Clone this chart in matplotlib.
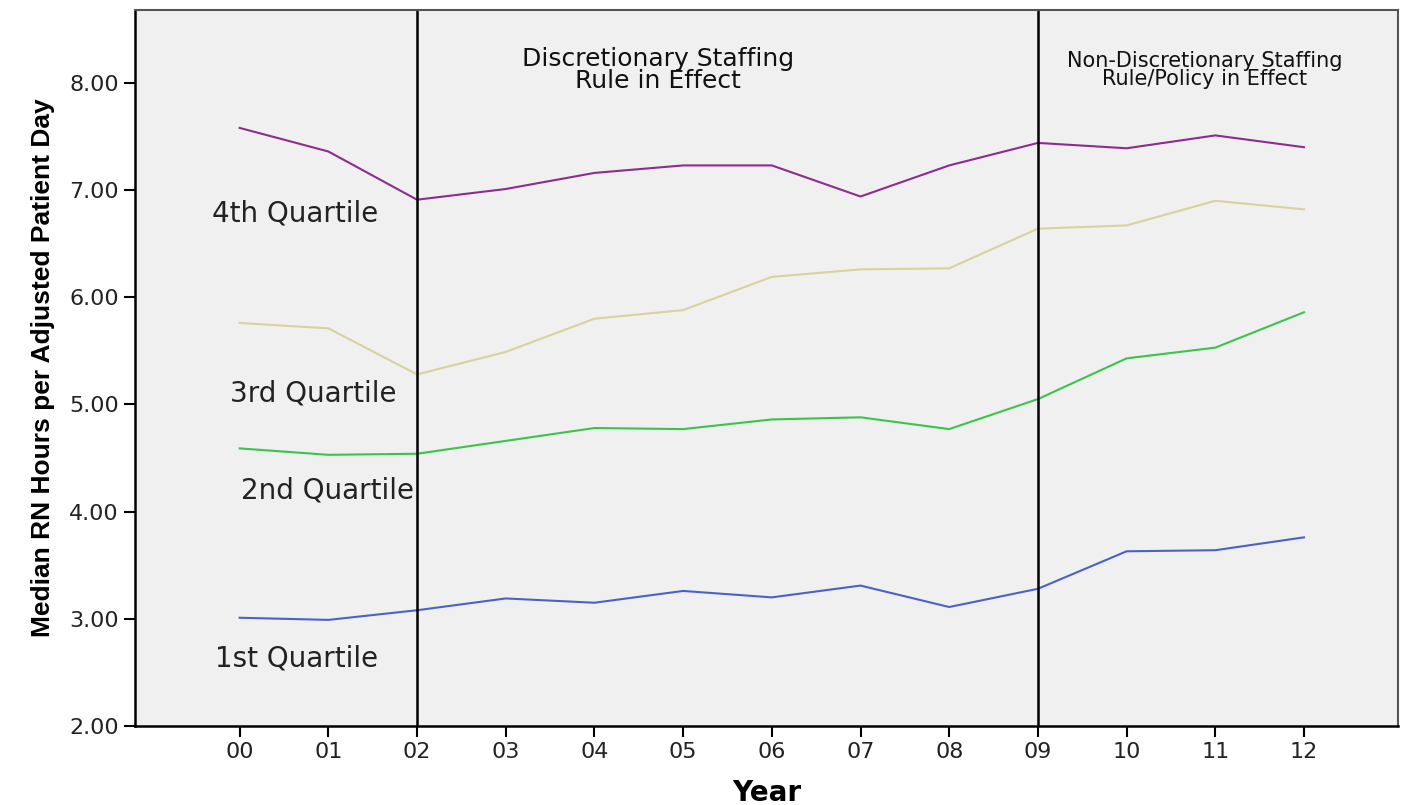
import numpy as np
import matplotlib
matplotlib.use("Agg")
import matplotlib.pyplot as plt

years = ["00", "01", "02", "03", "04", "05", "06", "07", "08", "09", "10", "11", "12"]

q4 = [7.58, 7.36, 6.91, 7.01, 7.16, 7.23, 7.23, 6.94, 7.23, 7.44, 7.39, 7.51, 7.40]
q3 = [5.76, 5.71, 5.28, 5.49, 5.80, 5.88, 6.19, 6.26, 6.27, 6.64, 6.67, 6.90, 6.82]
q2 = [4.59, 4.53, 4.54, 4.66, 4.78, 4.77, 4.86, 4.88, 4.77, 5.05, 5.43, 5.53, 5.86]
q1 = [3.01, 2.99, 3.08, 3.19, 3.15, 3.26, 3.20, 3.31, 3.11, 3.28, 3.63, 3.64, 3.76]

series = [
    ("4th Quartile", q4, "#8e2c8e", (0.63, 6.78)),
    ("3rd Quartile", q3, "#d8d29c", (0.83, 5.10)),
    ("2nd Quartile", q2, "#3cc44a", (0.99, 4.20)),
    ("1st Quartile", q1, "#4a62c8", (0.64, 2.63)),
]

rule_lines = [2, 9]
rule_labels = [
    (4.72, 8.12, "Discretionary Staffing\nRule in Effect", 18),
    (10.88, 8.12, "Non-Discretionary Staffing\nRule/Policy in Effect", 15),
]

plt.rcParams['font.family'] = ['DejaVu Sans']

fig = plt.figure(figsize=(14.02, 8.05), dpi=100)
ax = fig.add_axes([135 / 1402, 1 - 726 / 805, (1398 - 135) / 1402, (726 - 10) / 805])
ax.set_facecolor("#f0f0f0")

x = np.arange(len(years))
for name, vals, col, (lx, ly) in series:
    ax.plot(x, vals, color=col, lw=1.5)
    ax.text(lx, ly, name, fontsize=20, color="#222222", ha="center", va="center")

for xv in rule_lines:
    ax.axvline(xv, color="black", lw=1.8)
for lx, ly, txt, fs in rule_labels:
    ax.text(lx, ly, txt, fontsize=fs, ha="center", va="center", linespacing=0.9, color="#111111")

ax.set_xlim(-1.18, 13.06)
ax.set_ylim(2.0, 8.68)
ax.set_xticks(x)
ax.set_xticklabels(years, fontsize=16)
ax.set_yticks([2, 3, 4, 5, 6, 7, 8])
ax.set_yticklabels(["%.2f" % v for v in [2, 3, 4, 5, 6, 7, 8]], fontsize=16)
ax.tick_params(axis="both", length=8, width=1.5, color="black", labelcolor="#222222")

for side in ["left", "bottom"]:
    ax.spines[side].set_linewidth(1.8)
    ax.spines[side].set_color("black")
for side in ["top", "right"]:
    ax.spines[side].set_linewidth(1.5)
    ax.spines[side].set_color("#555555")

ax.set_xlabel("Year", fontsize=20, fontweight="bold", labelpad=12)
ax.set_ylabel("Median RN Hours per Adjusted Patient Day", fontsize=19, fontweight="bold",
              family=["Liberation Sans Narrow", "Liberation Sans", "DejaVu Sans"], labelpad=10)

fig.savefig("out.png", dpi=100)
